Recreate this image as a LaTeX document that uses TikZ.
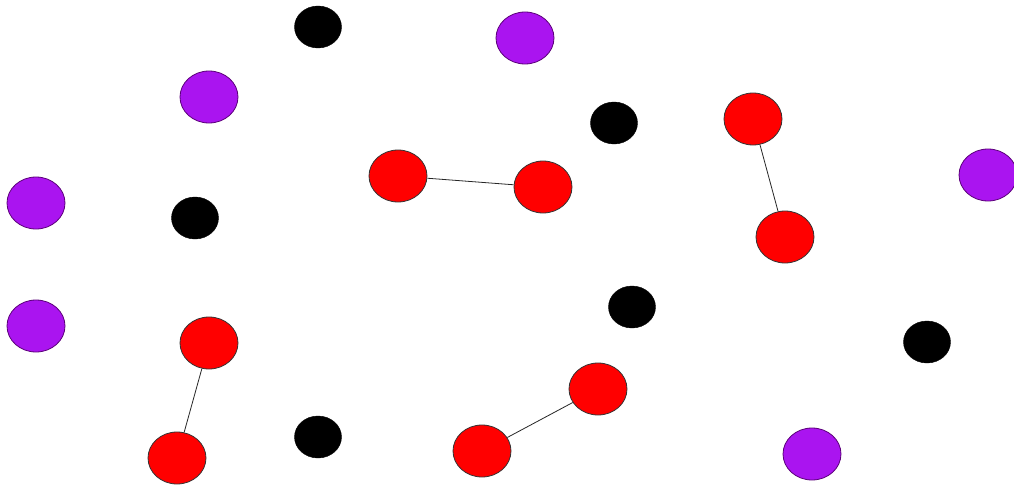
\documentclass[tikz,border=0pt]{standalone}
\usetikzlibrary{shapes.geometric}
\definecolor{pur}{RGB}{170,20,240}
\definecolor{purline}{RGB}{90,0,120}
\begin{document}
\begin{tikzpicture}[x=1pt,y=-1pt,
  redn/.style={ellipse,draw=black!80,line width=0.8pt,fill=red,minimum width=58pt,minimum height=52pt,inner sep=0pt},
  purn/.style={ellipse,draw=purline,line width=0.8pt,fill=pur,minimum width=58pt,minimum height=52pt,inner sep=0pt},
  blkn/.style={ellipse,draw=black,fill=black,minimum width=47pt,minimum height=42pt,inner sep=0pt},
  link/.style={draw=black!85,line width=0.8pt}]
\path[use as bounding box,fill=white] (0,0) rectangle (1014,487);
% black
\node[blkn] (b1) at (318,27) {};
\node[blkn] (b2) at (614,123) {};
\node[blkn] (b3) at (195,218) {};
\node[blkn] (b4) at (632,307) {};
\node[blkn] (b5) at (927,342) {};
\node[blkn] (b6) at (318,437) {};
% purple
\node[purn] (p1) at (525,38) {};
\node[purn] (p2) at (209,97) {};
\node[purn] (p3) at (36,203) {};
\node[purn] (p4) at (36,326) {};
\node[purn] (p5) at (988,175) {};
\node[purn] (p6) at (812,454) {};
% red
\node[redn] (r1) at (398,176) {};
\node[redn] (r2) at (543,187) {};
\node[redn] (r3) at (753,119) {};
\node[redn] (r4) at (785,237) {};
\node[redn] (r5) at (209,343) {};
\node[redn] (r6) at (177,458) {};
\node[redn] (r7) at (598,389) {};
\node[redn] (r8) at (482,451) {};
\draw[link] (r1) -- (r2);
\draw[link] (r3) -- (r4);
\draw[link] (r5) -- (r6);
\draw[link] (r7) -- (r8);
\end{tikzpicture}
\end{document}
